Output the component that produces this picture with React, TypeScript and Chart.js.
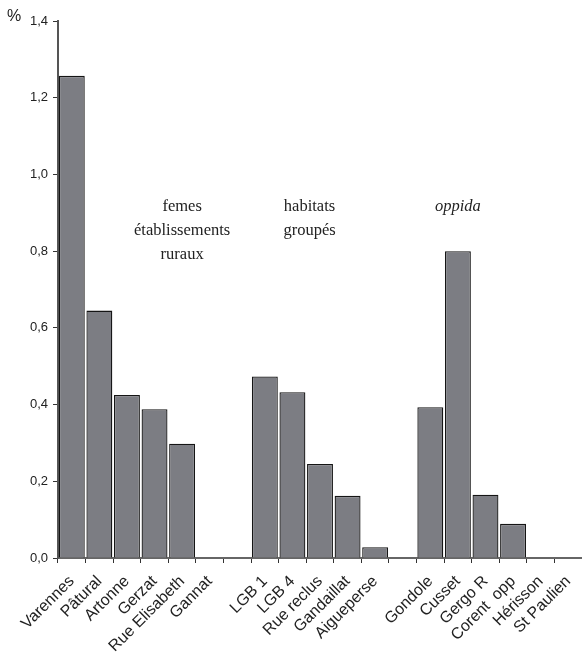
import React, { useEffect, useRef } from "react";
import { Chart, registerables } from "chart.js";

Chart.register(...registerables);

const categories: string[] = [
  "Varennes", "Pâtural", "Artonne", "Gerzat", "Rue Elisabeth", "Gannat", "",
  "LGB 1", "LGB 4", "Rue reclus", "Gandaillat", "Aigueperse", "",
  "Gondole", "Cusset", "Gergo R", "Corent  opp", "Hérisson", "St Paulien",
];

const percentValues: (number | null)[] = [
  1.257, 0.645, 0.425, 0.388, 0.298, null, null,
  0.473, 0.432, 0.245, 0.162, 0.028, null,
  0.393, 0.8, 0.165, 0.089, null, null,
];

const yTicks: number[] = [0, 0.2, 0.4, 0.6, 0.8, 1.0, 1.2, 1.4];

const groupLabels = [
  { lines: ["femes", "établissements", "ruraux"], at: 4, italic: false },
  { lines: ["habitats", "groupés"], at: 8.62, italic: false },
  { lines: ["oppida"], at: 14, italic: true },
];

const annotationPlugin = {
  id: "groupText",
  afterDraw(chart: any) {
    const { ctx, chartArea, scales } = chart;
    const xs = scales.x;
    const ys = scales.y;
    const slot = xs.getPixelForValue(1) - xs.getPixelForValue(0);
    ctx.save();
    ctx.fillStyle = "#222";
    ctx.textAlign = "center";
    ctx.textBaseline = "middle";
    const y0 = ys.getPixelForValue(0.915);
    for (const g of groupLabels) {
      const base = Math.floor(g.at);
      const x = xs.getPixelForValue(base) + (g.at - base) * slot;
      ctx.font = (g.italic ? "italic " : "") + '16.5px "Liberation Serif", "Times New Roman", serif';
      g.lines.forEach((t, i) => ctx.fillText(t, x, y0 + i * 24));
    }
    ctx.font = '16px "Liberation Sans", Arial, sans-serif';
    ctx.textAlign = "left";
    ctx.fillText("%", chartArea.left - 51, chartArea.top - 4);
    ctx.restore();
  },
};

export default function App() {
  const ref = useRef<HTMLCanvasElement | null>(null);
  useEffect(() => {
    if (!ref.current) return;
    const chart = new Chart(ref.current, {
      type: "bar",
      data: {
        labels: categories,
        datasets: [
          {
            data: percentValues,
            backgroundColor: "#7c7d83",
            borderColor: "#151515",
            borderWidth: 1.3,
            barPercentage: 0.94,
            categoryPercentage: 1,
          },
        ],
      },
      options: {
        animation: false,
        responsive: false,
        maintainAspectRatio: false,
        layout: { padding: { top: 21, right: 0, left: 0, bottom: 0 } },
        plugins: { legend: { display: false }, tooltip: { enabled: false } },
        scales: {
          x: {
            offset: true,
            grid: {
              offset: true,
              drawOnChartArea: false,
              drawTicks: true,
              tickLength: 5,
              color: "#333",
            },
            border: { display: true, color: "#666", width: 2 },
            ticks: {
              autoSkip: false,
              maxRotation: 45,
              minRotation: 45,
              padding: 9,
              color: "#222",
              font: { family: '"Liberation Sans", Arial, sans-serif', size: 16 },
            },
            afterFit(scale: any) {
              scale.height = 95;
              scale.paddingRight = 0;
              scale.paddingLeft = 0;
            },
          },
          y: {
            min: 0,
            max: 1.4,
            afterBuildTicks(scale: any) {
              scale.ticks = yTicks.map((v) => ({ value: v }));
            },
            grid: {
              drawOnChartArea: false,
              drawTicks: true,
              tickLength: 5,
              color: "#333",
            },
            border: { display: true, color: "#555", width: 2 },
            ticks: {
              padding: 5,
              color: "#222",
              font: { family: '"Liberation Sans", Arial, sans-serif', size: 13 },
              callback: (v: any) => Number(v).toFixed(1).replace(".", ","),
            },
            afterFit(scale: any) {
              scale.width = 58;
            },
          },
        },
      },
      plugins: [annotationPlugin],
    });
    return () => chart.destroy();
  }, []);
  return (
    <div style={{ position: "absolute", left: 0, top: 0, width: 582, height: 653, background: "#fff" }}>
      <canvas ref={ref} width={582} height={653} style={{ width: 582, height: 653 }} />
    </div>
  );
}
